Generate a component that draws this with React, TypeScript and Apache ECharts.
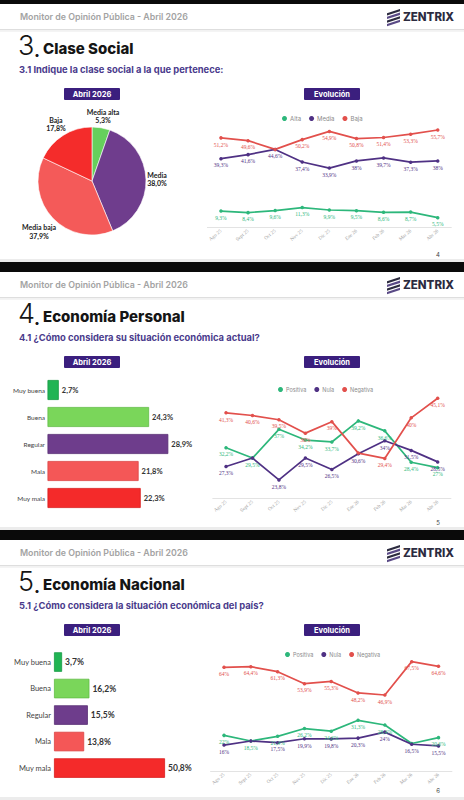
import React, { useEffect, useRef } from "react";
import * as echarts from "echarts";

// ---------- data ----------
const months = ["Ago 25", "Sept 25", "Oct 25", "Nov 25", "Dic 25", "Ene 26", "Feb 26", "Mar 26", "Abr 26"];

// 3. Clase social
const claseLabels = ["Media alta", "Media", "Media baja", "Baja"];
const claseShares = [5.3, 38.0, 37.9, 17.8];
const claseNames = ["Alta", "Media", "Baja"];
const claseAlta = [9.3, 8.4, 9.6, 11.3, 9.9, 9.5, 8.6, 8.7, 5.5];
const claseMedia = [39.3, 41.6, 44.6, 37.4, 33.9, 38, 39.7, 37.3, 38];
const claseBaja = [51.2, 49.6, 44.6, 50.2, 54.9, 50.8, 51.4, 53.3, 55.7];

// 4. Economía personal
const ratingLabels = ["Muy buena", "Buena", "Regular", "Mala", "Muy mala"];
const personalShares = [2.7, 24.3, 28.9, 21.8, 22.3];
const evoNames = ["Positiva", "Nula", "Negativa"];
const personalPositiva = [32.2, 29.5, 37, 34.2, 33.7, 39.2, 36.6, 28.4, 27];
const personalNula = [27.3, 29.5, 23.8, 29.5, 26.5, 30.6, 34, 31.5, 28.5];
const personalNegativa = [41.3, 40.6, 39.5, 36, 39, 30.8, 29.4, 40, 45.1];

// 5. Economía nacional
const nacionalShares = [3.7, 16.2, 15.5, 13.8, 50.8];
const nacionalPositiva = [22, 18.5, 21.4, 26.2, 24.6, 31.3, 28.4, 17, 20.6];
const nacionalNula = [16, 18.5, 17.5, 19.9, 19.8, 20.3, 24, 16.5, 15.5];
const nacionalNegativa = [64, 64.4, 61.3, 53.9, 55.3, 48.2, 46.9, 67.5, 64.6];

// ---------- styles ----------
const GREEN = "#2db77b";
const PURPLE = "#4f3184";
const RED = "#e2504c";
const pieColors = ["#66cf5c", "#6f3d8d", "#f45a59", "#f42c2b"];
const barColors = ["#20b454", "#7ad65a", "#6e3d8c", "#f45757", "#f42a2a"];
const barBorders = ["#179a44", "#62bd46", "#582e74", "#dc4444", "#d81d1d"];
const BADGE = "#3b1f7e";
const SUB = "#4a3b8c";

const fmtPct = (v: number) => (Number.isInteger(v) ? String(v) : v.toFixed(1).replace(".", ",")) + "%";
const fmt1 = (v: number) => v.toFixed(1).replace(".", ",") + "%";

function lineSeries(name: string, data: number[], color: string, axis: number, hide: number[] = []) {
  return {
    type: "line",
    name,
    xAxisIndex: axis,
    yAxisIndex: axis,
    data: data.map((v, i) => (hide.includes(i) ? { value: v, label: { show: false } } : v)),
    lineStyle: { color, width: 1.7 },
    itemStyle: { color },
    symbol: "circle",
    symbolSize: 3.5,
    z: 5,
    label: {
      show: true,
      position: "bottom",
      distance: 2,
      fontSize: 5.5,
      color,
      fontFamily: "Liberation Serif",
      formatter: (p: any) => fmtPct(p.value),
    },
  };
}

function barSeries(values: number[], axis: number, barWidth: number, fontSize: number) {
  return {
    type: "bar",
    xAxisIndex: axis,
    yAxisIndex: axis,
    barWidth,
    data: values.map((v, i) => ({
      value: v,
      itemStyle: { color: barColors[i], borderColor: barBorders[i], borderWidth: 0.8 },
    })),
    label: {
      show: true,
      position: "right",
      distance: 3,
      fontSize,
      fontWeight: "bold",
      color: "#333",
      fontFamily: "Lato",
      formatter: (p: any) => fmt1(p.value),
    },
  };
}

const catYAxis = (grid: number, fontSize: number, margin: number) => ({
  type: "category",
  gridIndex: grid,
  data: ratingLabels,
  inverse: true,
  axisLine: { show: false },
  axisTick: { show: false },
  axisLabel: { fontSize, color: "#444", fontFamily: "Lato", margin },
});
const valXAxis = (grid: number, max: number) => ({ type: "value", gridIndex: grid, min: 0, max, show: false });
const monthXAxis = (grid: number) => ({
  type: "category",
  gridIndex: grid,
  data: months,
  boundaryGap: true,
  axisLine: { lineStyle: { color: "#e3e3e3", width: 1 } },
  axisTick: { show: false },
  axisLabel: { rotate: 40, fontSize: 5, color: "#a0a0a0", margin: 3, interval: 0, fontFamily: "Liberation Serif" },
});
const valYAxis = (grid: number, min: number, max: number) => ({ type: "value", gridIndex: grid, min, max, show: false });

const legendAt = (data: string[], left: number, top: number, fontSize: number) => ({
  data,
  left,
  top,
  icon: "circle",
  itemWidth: 5,
  itemHeight: 5,
  itemGap: 8,
  selectedMode: false,
  textStyle: { fontSize, color: "#8a8a8a", fontFamily: "Inter", padding: [0, 0, 0, -2] },
});

function badge(x: number, y: number, text: string) {
  return [
    { type: "rect", z: 20, shape: { x, y, width: 56, height: 12, r: 1 }, style: { fill: BADGE } },
    {
      type: "text",
      z: 21,
      x: x + 28,
      y: y + 6.3,
      style: { text, fill: "#fff", fontSize: 7.5, fontWeight: 700, fontFamily: "Inter", align: "center", verticalAlign: "middle" },
    },
  ];
}

function decor(off: number, top: number, bottom: number, num: string, title: string, subtitle: string, page: string) {
  const els: any[] = [
    { type: "rect", z: -10, shape: { x: 0, y: top, width: 464, height: bottom - top }, style: { fill: "#fff" } },
    { type: "rect", z: -9, shape: { x: 0, y: off + 29, width: 464, height: 1.2 }, style: { fill: "#dedede" } },
    { type: "rect", z: -9, shape: { x: 0, y: off + 30.2, width: 464, height: 1.5 }, style: { fill: "#f1f1f1" } },
    { type: "rect", z: -9, shape: { x: 0, y: bottom - 3, width: 464, height: 3 }, style: { fill: "#ececec" } },
    {
      type: "text",
      z: 20,
      x: 20,
      y: off + 16.5,
      style: { text: "Monitor de Opinión Pública - Abril 2026", fill: "#a3a3a3", fontSize: 8.8, fontWeight: 600, fontFamily: "Inter", verticalAlign: "middle" },
    },
    {
      type: "text",
      z: 20,
      x: 403,
      y: off + 17,
      style: { text: "ZENTRIX", fill: "#2c2b3f", fontSize: 11.5, fontWeight: 800, fontFamily: "Inter", verticalAlign: "middle" },
    },
    {
      type: "text",
      z: 20,
      x: 18,
      y: off + 45,
      style: { text: num, fill: "#151515", fontSize: 27, fontWeight: 300, fontFamily: "Inter", verticalAlign: "middle" },
    },
    {
      type: "text",
      z: 20,
      x: 34,
      y: off + 51,
      style: { text: ".", fill: "#151515", fontSize: 17, fontWeight: 800, fontFamily: "Inter", verticalAlign: "middle" },
    },
    {
      type: "text",
      z: 20,
      x: 43,
      y: off + 48.5,
      style: { text: title, fill: "#151515", fontSize: 15, fontWeight: 800, fontFamily: "Inter", verticalAlign: "middle" },
    },
    {
      type: "text",
      z: 20,
      x: 19,
      y: off + 69.5,
      style: { text: subtitle, fill: SUB, fontSize: 9.4, fontWeight: 700, fontFamily: "Inter", verticalAlign: "middle" },
    },
    ...badge(64, off + 88, "Abril 2026"),
    ...badge(304, off + 88, "Evolución"),
    {
      type: "text",
      z: 20,
      x: 438,
      y: off + 254,
      style: { text: page, fill: "#444", fontSize: 6, fontFamily: "Inter", align: "center", verticalAlign: "middle" },
    },
  ];
  for (let i = 0; i < 4; i++) {
    const b = off + 9 + i * 3.6;
    els.push({
      type: "polygon",
      z: 20,
      shape: { points: [[387, b + 4.2], [400, b], [400, b + 2.3], [387, b + 6.5]] },
      style: { fill: i % 2 === 0 ? "#2c2b3f" : "#5a4a86" },
    });
  }
  return els;
}

export default function App() {
  const ref = useRef<HTMLDivElement>(null);
  useEffect(() => {
    document.body.style.margin = "0";
    const chart = echarts.init(ref.current!, undefined, { renderer: "svg" });

    const total = claseShares.reduce((a, b) => a + b, 0);
    const pieCenter = [92, 181];
    const pieR = 54;
    const cum: number[] = [];
    claseShares.reduce((acc, v) => {
      cum.push(acc);
      return acc + v;
    }, 0);

    const option: any = {
      animation: false,
      backgroundColor: "#0a0a0a",
      textStyle: { fontFamily: "Inter" },
      graphic: {
        elements: [
          ...decor(0, 4, 262, "3", "Clase Social", "3.1 Indique la clase social a la que pertenece:", "4"),
          ...decor(268, 272, 530, "4", "Economía Personal", "4.1 ¿Cómo considera su situación económica actual?", "5"),
          ...decor(536, 540, 800, "5", "Economía Nacional", "5.1 ¿Cómo considera la situación económica del país?", "6"),
        ],
      },
      legend: [
        legendAt(claseNames, 277, 110.5, 6),
        legendAt(evoNames, 273, 381.5, 5.5),
        legendAt(evoNames, 280, 646.5, 5.5),
      ],
      grid: [
        { left: 207.4, top: 122.5, width: 243.9, height: 104.8, outerBoundsMode: "none" },
        { left: 47.5, top: 376.5, width: 125.4, height: 135, outerBoundsMode: "none" },
        { left: 212.8, top: 391, width: 238.1, height: 107.3, outerBoundsMode: "none" },
        { left: 54, top: 648.8, width: 120.2, height: 132.5, outerBoundsMode: "none" },
        { left: 210.6, top: 657.6, width: 241.3, height: 113.4, outerBoundsMode: "none" },
      ],
      xAxis: [monthXAxis(0), valXAxis(1, 30), monthXAxis(2), valXAxis(3, 55), monthXAxis(4)],
      yAxis: [valYAxis(0, 0, 60), catYAxis(1, 6.5, 2.5), valYAxis(2, 19, 47), catYAxis(3, 7.5, 3), valYAxis(4, 0, 70)],
      series: [
        lineSeries("Alta", claseAlta, GREEN, 0),
        lineSeries("Media", claseMedia, PURPLE, 0),
        lineSeries("Baja", claseBaja, RED, 0, [2]),
        barSeries(personalShares, 1, 20, 7.5),
        lineSeries("Positiva", personalPositiva, GREEN, 2),
        lineSeries("Nula", personalNula, PURPLE, 2, [1]),
        lineSeries("Negativa", personalNegativa, RED, 2, [5]),
        barSeries(nacionalShares, 3, 19.5, 8.5),
        lineSeries("Positiva", nacionalPositiva, GREEN, 4, [7]),
        lineSeries("Nula", nacionalNula, PURPLE, 4, [1]),
        lineSeries("Negativa", nacionalNegativa, RED, 4),
        {
          type: "pie",
          center: pieCenter,
          radius: pieR,
          startAngle: 90,
          clockwise: true,
          silent: true,
          data: claseLabels.map((n, i) => ({ name: n, value: claseShares[i], itemStyle: { color: pieColors[i] } })),
          itemStyle: { borderColor: "#fff", borderWidth: 0.6 },
          label: {
            position: "outside",
            fontSize: 7,
            lineHeight: 8.5,
            fontWeight: "bold",
            fontFamily: "Lato",
            color: "#222",
            formatter: (p: any) => `${p.name}\n${fmt1(p.value)}`,
          },
          labelLine: { show: false, length: 2, length2: 2 },
          labelLayout: (p: any) => {
            const i = p.dataIndex;
            const a = ((cum[i] + claseShares[i] / 2) / total) * Math.PI * 2;
            const dx = Math.sin(a);
            const dy = -Math.cos(a);
            const w = p.labelRect.width;
            const h = p.labelRect.height;
            const off = (w / 2) * Math.abs(dx) + (h / 2) * Math.abs(dy) + 1;
            return {
              x: pieCenter[0] + dx * (pieR + off),
              y: pieCenter[1] + dy * (pieR + off),
              align: "center",
              verticalAlign: "middle",
            };
          },
        },
      ],
    };
    chart.setOption(option);
    return () => chart.dispose();
  }, []);
  return <div ref={ref} style={{ width: 464, height: 800 }} />;
}
